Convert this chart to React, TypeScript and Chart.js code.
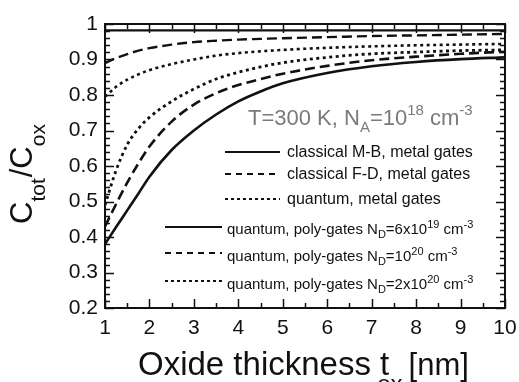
import React, { useEffect, useRef } from "react";
import { Chart, registerables } from "chart.js";

Chart.register(...registerables);

// ---- data ----
const thickness = [1, 1.25, 1.5, 1.75, 2, 2.5, 3, 3.5, 4, 4.5, 5, 6, 7, 8, 9, 10];
const classicalMB = [0.982, 0.982, 0.982, 0.982, 0.982, 0.982, 0.982, 0.982, 0.982, 0.982, 0.982, 0.982, 0.982, 0.982, 0.982, 0.982];
const classicalFD = [0.89, 0.904, 0.915, 0.925, 0.932, 0.942, 0.949, 0.953, 0.956, 0.958, 0.96, 0.963, 0.966, 0.968, 0.97, 0.972];
const quantumMetal = [0.795, 0.823, 0.843, 0.858, 0.87, 0.887, 0.9, 0.911, 0.918, 0.923, 0.927, 0.933, 0.937, 0.94, 0.942, 0.944];
const polyND6e19 = [0.38, 0.428, 0.475, 0.522, 0.57, 0.645, 0.7, 0.745, 0.782, 0.81, 0.833, 0.862, 0.881, 0.893, 0.901, 0.906];
const polyND1e20 = [0.43, 0.493, 0.553, 0.607, 0.655, 0.725, 0.773, 0.805, 0.828, 0.845, 0.86, 0.882, 0.898, 0.908, 0.916, 0.922];
const polyND2e20 = [0.49, 0.588, 0.66, 0.705, 0.737, 0.782, 0.817, 0.845, 0.864, 0.879, 0.891, 0.906, 0.916, 0.921, 0.925, 0.927];

const xTickValues = [1, 2, 3, 4, 5, 6, 7, 8, 9, 10];
const xTickLabels = ["1", "2", "3", "4", "5", "6", "7", "8", "9", "10"];
const yTickValues = [0.2, 0.3, 0.4, 0.5, 0.6, 0.7, 0.8, 0.9, 1];
const yTickLabels = ["0.2", "0.3", "0.4", "0.5", "0.6", "0.7", "0.8", "0.9", "1"];

const FONT = '"Liberation Sans", Arial, Helvetica, sans-serif';
const INK = "#111111";

type Part = [string, number, number, number?]; // text, font size, baseline offset, x offset

function drawRich(ctx: CanvasRenderingContext2D, x: number, y: number, parts: Part[]) {
  let cx = x;
  ctx.textBaseline = "alphabetic";
  ctx.textAlign = "left";
  for (const [t, s, dy, dx] of parts) {
    ctx.font = `${s}px ${FONT}`;
    cx += dx || 0;
    ctx.fillText(t, cx, y + dy);
    cx += ctx.measureText(t).width;
  }
  return cx;
}

function legendLine(ctx: CanvasRenderingContext2D, x1: number, x2: number, y: number, dash: number[], w: number) {
  ctx.save();
  ctx.strokeStyle = INK;
  ctx.lineWidth = w;
  ctx.setLineDash(dash);
  ctx.beginPath();
  ctx.moveTo(x1, y);
  ctx.lineTo(x2, y);
  ctx.stroke();
  ctx.restore();
}

const decorPlugin = {
  id: "decor",
  afterDraw(chart: any) {
    const ctx: CanvasRenderingContext2D = chart.ctx;
    const xs = chart.scales.x;
    const ys = chart.scales.y;
    const { left, right, top, bottom } = chart.chartArea;
    ctx.save();
    ctx.strokeStyle = INK;
    ctx.fillStyle = INK;
    ctx.setLineDash([]);
    // frame
    ctx.lineWidth = 2;
    ctx.strokeRect(left, top, right - left, bottom - top);
    // x ticks (major + minor) on bottom and top, inward
    ctx.lineWidth = 1.5;
    ctx.beginPath();
    for (let v = 1; v <= 10.001; v += 0.5) {
      const px = Math.round(xs.getPixelForValue(v)) + 0.5;
      const major = Math.abs(v - Math.round(v)) < 1e-6;
      const len = major ? 9 : 5;
      ctx.moveTo(px, bottom);
      ctx.lineTo(px, bottom - len);
      ctx.moveTo(px, top);
      ctx.lineTo(px, top + len);
    }
    // y ticks
    for (let i = 0; i <= 40; i++) {
      const v = 0.2 + i * 0.02;
      const py = Math.round(ys.getPixelForValue(v)) + 0.5;
      const major = i % 5 === 0;
      const len = major ? 9 : 5;
      ctx.moveTo(left, py);
      ctx.lineTo(left + len, py);
      ctx.moveTo(right, py);
      ctx.lineTo(right - len, py);
    }
    ctx.stroke();

    // tick labels
    ctx.font = `21px ${FONT}`;
    ctx.textAlign = "right";
    ctx.textBaseline = "middle";
    yTickValues.forEach((v, i) => {
      ctx.fillText(yTickLabels[i], left - 7, ys.getPixelForValue(v));
    });
    ctx.textAlign = "center";
    ctx.textBaseline = "top";
    xTickValues.forEach((v, i) => {
      ctx.fillText(xTickLabels[i], xs.getPixelForValue(v), bottom + 10);
    });

    // x title
    ctx.fillStyle = INK;
    drawRich(ctx, 138, 375, [
      ["Oxide thickness t", 33, 0],
      ["ox", 24, 17, -12],
      ["[nm]", 31, 0, 6],
    ]);

    // y title (rotated)
    ctx.save();
    ctx.translate(32, 224);
    ctx.rotate(-Math.PI / 2);
    drawRich(ctx, 0, 0, [
      ["C", 31, 0],
      ["tot", 21, 13],
      ["/C", 31, 0, 1],
      ["ox", 21, 13],
    ]);
    ctx.restore();

    // annotation
    ctx.fillStyle = "#7a7a7a";
    drawRich(ctx, 248, 125, [
      ["T=300 K, N", 22, 0],
      ["A", 15, 7],
      ["=10", 22, 0],
      ["18", 15, -10],
      [" cm", 22, 0],
      ["-3", 15, -10],
    ]);

    // legend
    ctx.fillStyle = INK;
    legendLine(ctx, 225, 280, 152, [], 2);
    legendLine(ctx, 225, 280, 174, [6, 5], 2);
    legendLine(ctx, 225, 280, 199, [3, 3], 2);
    const top3: [number, string][] = [
      [157, "classical M-B, metal gates"],
      [179, "classical F-D, metal gates"],
      [204, "quantum, metal gates"],
    ];
    for (const [y, t] of top3) drawRich(ctx, 287, y, [[t, 16, 0]]);

    legendLine(ctx, 165, 222, 227, [], 2);
    legendLine(ctx, 165, 222, 253, [6, 5], 2);
    legendLine(ctx, 165, 222, 281, [3, 3], 2);
    drawRich(ctx, 227, 234, [
      ["quantum, poly-gates N", 15, 0],
      ["D", 11, 4],
      ["=6x10", 15, 0],
      ["19", 11, -6],
      [" cm", 15, 0],
      ["-3", 11, -6],
    ]);
    drawRich(ctx, 227, 261, [
      ["quantum, poly-gates N", 15, 0],
      ["D", 11, 4],
      ["=10", 15, 0],
      ["20", 11, -6],
      [" cm", 15, 0],
      ["-3", 11, -6],
    ]);
    drawRich(ctx, 227, 289, [
      ["quantum, poly-gates N", 15, 0],
      ["D", 11, 4],
      ["=2x10", 15, 0],
      ["20", 11, -6],
      [" cm", 15, 0],
      ["-3", 11, -6],
    ]);
    ctx.restore();
  },
};

function series(data: number[], dash: number[], width: number) {
  return {
    data: thickness.map((t, i) => ({ x: t, y: data[i] })),
    borderColor: INK,
    borderWidth: width,
    borderDash: dash,
    pointRadius: 0,
    fill: false,
    cubicInterpolationMode: "monotone" as const,
  };
}

export default function App() {
  const ref = useRef<HTMLCanvasElement | null>(null);
  useEffect(() => {
    if (!ref.current) return;
    const chart = new Chart(ref.current, {
      type: "line",
      data: {
        datasets: [
          series(classicalMB, [], 2.2),
          series(classicalFD, [10, 5], 2.4),
          series(quantumMetal, [3, 3.5], 2.6),
          series(polyND6e19, [], 2.6),
          series(polyND1e20, [10, 5], 2.6),
          series(polyND2e20, [3, 3.5], 2.8),
        ],
      },
      options: {
        animation: false,
        responsive: false,
        devicePixelRatio: 1,
        layout: { padding: { left: 105, right: 14, top: 24, bottom: 74 } },
        plugins: { legend: { display: false }, tooltip: { enabled: false } },
        scales: {
          x: { type: "linear", min: 1, max: 10, display: false },
          y: { type: "linear", min: 0.2, max: 1, display: false },
        },
      },
      plugins: [decorPlugin],
    });
    return () => chart.destroy();
  }, []);
  return (
    <div style={{ position: "fixed", left: 0, top: 0, width: 519, height: 382, background: "#fff" }}>
      <canvas ref={ref} width={519} height={382} />
    </div>
  );
}
